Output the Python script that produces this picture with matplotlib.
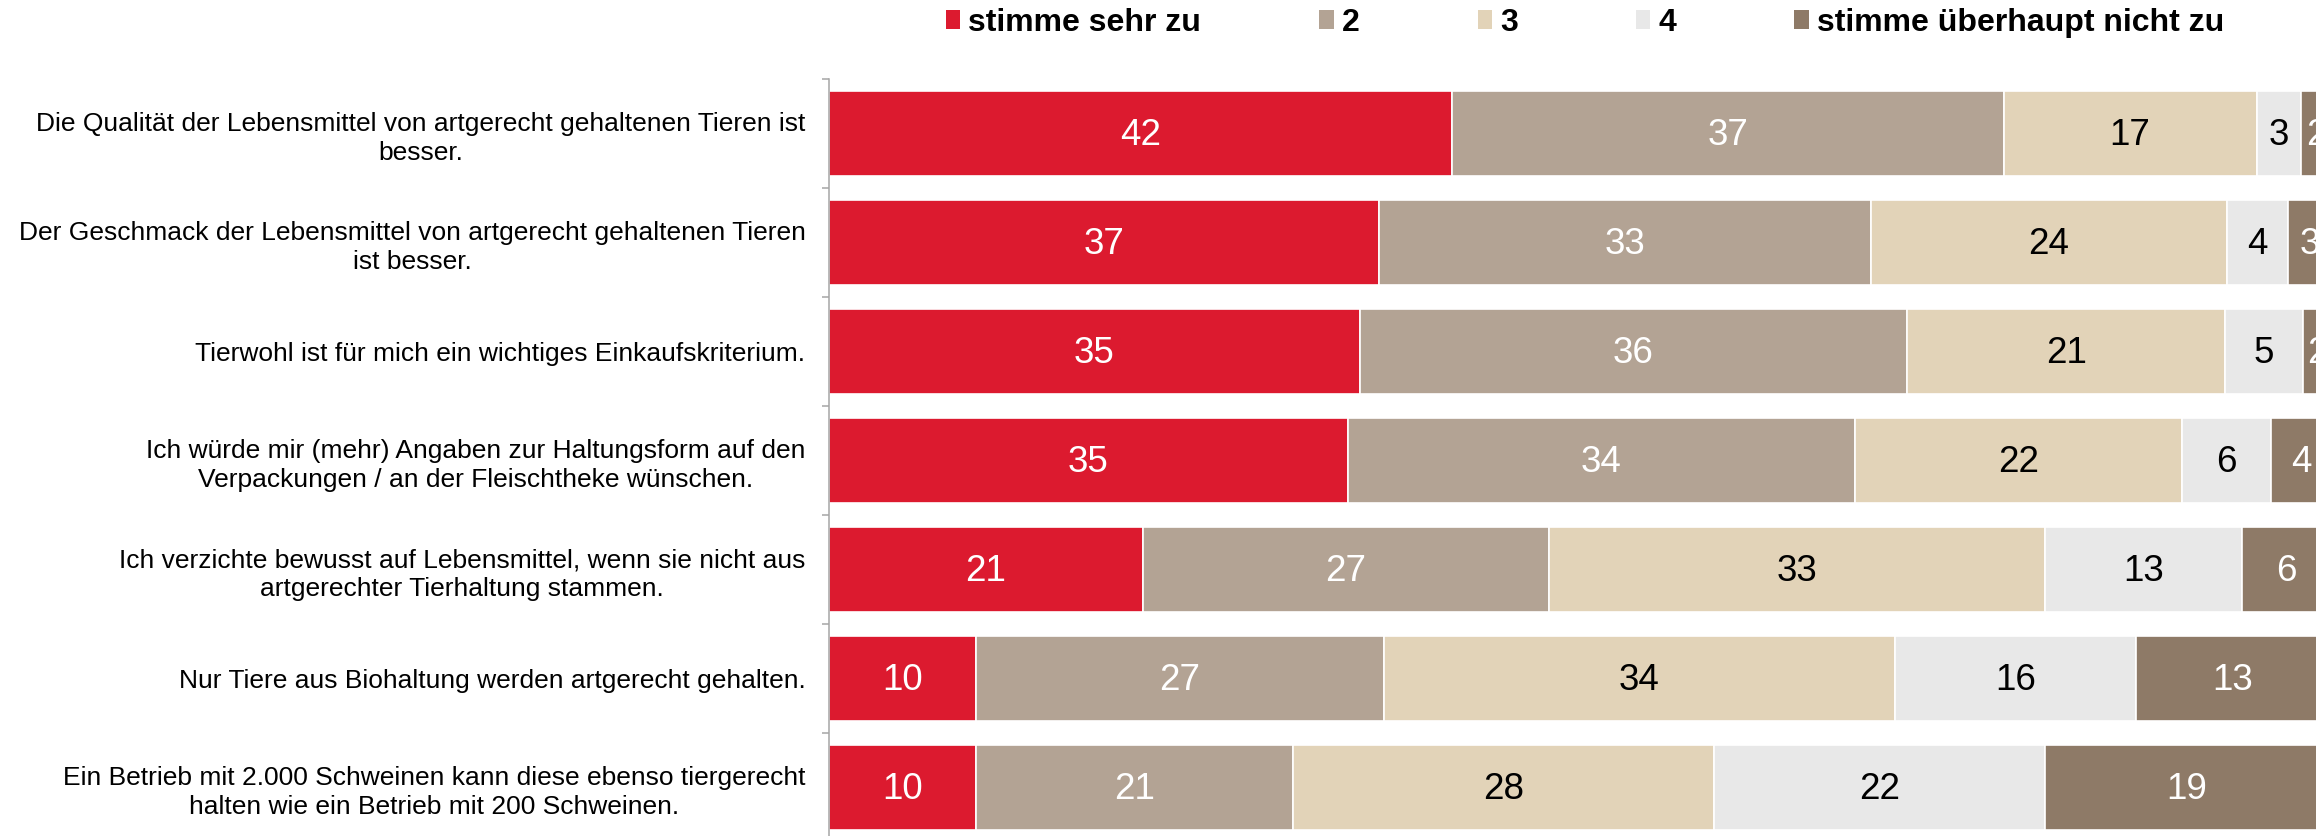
import matplotlib
matplotlib.use("Agg")
from matplotlib import pyplot as plt
from matplotlib.patches import Patch

plt.rcParams["font.family"] = ["Liberation Sans", "DejaVu Sans"]

categories = [
    "Die Qualität der Lebensmittel von artgerecht gehaltenen Tieren ist\nbesser.",
    "Der Geschmack der Lebensmittel von artgerecht gehaltenen Tieren\nist besser.",
    "Tierwohl ist für mich ein wichtiges Einkaufskriterium.",
    "Ich würde mir (mehr) Angaben zur Haltungsform auf den\nVerpackungen / an der Fleischtheke wünschen.",
    "Ich verzichte bewusst auf Lebensmittel, wenn sie nicht aus\nartgerechter Tierhaltung stammen.",
    "Nur Tiere aus Biohaltung werden artgerecht gehalten.",
    "Ein Betrieb mit 2.000 Schweinen kann diese ebenso tiergerecht\nhalten wie ein Betrieb mit 200 Schweinen.",
]
series_names = ["stimme sehr zu", "2", "3", "4", "stimme überhaupt nicht zu"]

# segment widths (percent)
s1 = [41.9, 37.0, 35.7, 34.9, 21.1, 9.9, 9.9]
s2 = [37.1, 33.1, 36.8, 34.1, 27.3, 27.4, 21.3]
s3 = [17.0, 23.9, 21.4, 22.0, 33.4, 34.4, 28.3]
s4 = [3.0, 4.1, 5.2, 6.0, 13.2, 16.2, 22.3]
s5 = [2.0, 3.0, 2.0, 4.0, 6.0, 13.0, 19.0]

# printed value labels
l1 = [42, 37, 35, 35, 21, 10, 10]
l2 = [37, 33, 36, 34, 27, 27, 21]
l3 = [17, 24, 21, 22, 33, 34, 28]
l4 = [3, 4, 5, 6, 13, 16, 22]
l5 = [2, 3, 2, 4, 6, 13, 19]

colors = ["#DC1A2F", "#B3A394", "#E2D3B8", "#E8E8E8", "#8E7A67"]
text_colors = ["white", "white", "black", "black", "white"]

fig = plt.figure(figsize=(23.16, 8.36), dpi=100)
ax = fig.add_axes([829 / 2316, 1 - (79 + 7 * 109) / 836, 1 - 829 / 2316, 7 * 109 / 836])

ypos = list(range(len(categories)))
left = [0.0] * len(categories)
for vals, labs, col, tcol in zip([s1, s2, s3, s4, s5], [l1, l2, l3, l4, l5], colors, text_colors):
    ax.barh(ypos, vals, left=left, height=0.78, color=col, edgecolor="white", linewidth=1.2)
    for y, v, lab, x0 in zip(ypos, vals, labs, left):
        ax.text(x0 + v / 2, y + 0.02, str(lab), ha="center", va="center", color=tcol, fontsize=26.5, clip_on=False)
    left = [a + b for a, b in zip(left, vals)]

ax.set_xlim(0, 100)
ax.set_ylim(6.5, -0.5)
ax.set_yticks(ypos)
ax.set_yticklabels(categories, fontsize=19, multialignment="center", linespacing=1.28)
ax.set_yticks([i - 0.5 for i in range(len(categories) + 1)], minor=True)
ax.tick_params(axis="y", which="major", length=0, pad=17)
ax.tick_params(axis="y", which="minor", length=5, width=1.1, color="#A6A6A6", direction="out")
ax.set_xticks([])
for side in ["top", "right", "bottom"]:
    ax.spines[side].set_visible(False)
ax.spines["left"].set_color("#A6A6A6")
ax.spines["left"].set_linewidth(1.1)

handles = [Patch(facecolor=c, edgecolor="none") for c in colors]
fig.legend(handles, series_names, loc="center left", bbox_to_anchor=(946 / 2316, 1 - 23 / 836),
           ncol=5, frameon=False, borderpad=0, borderaxespad=0, handlelength=0.45, handleheight=0.55,
           handletextpad=0.25, columnspacing=3.7, prop={"weight": "bold", "size": 23})

fig.savefig("out.png", dpi=100)
